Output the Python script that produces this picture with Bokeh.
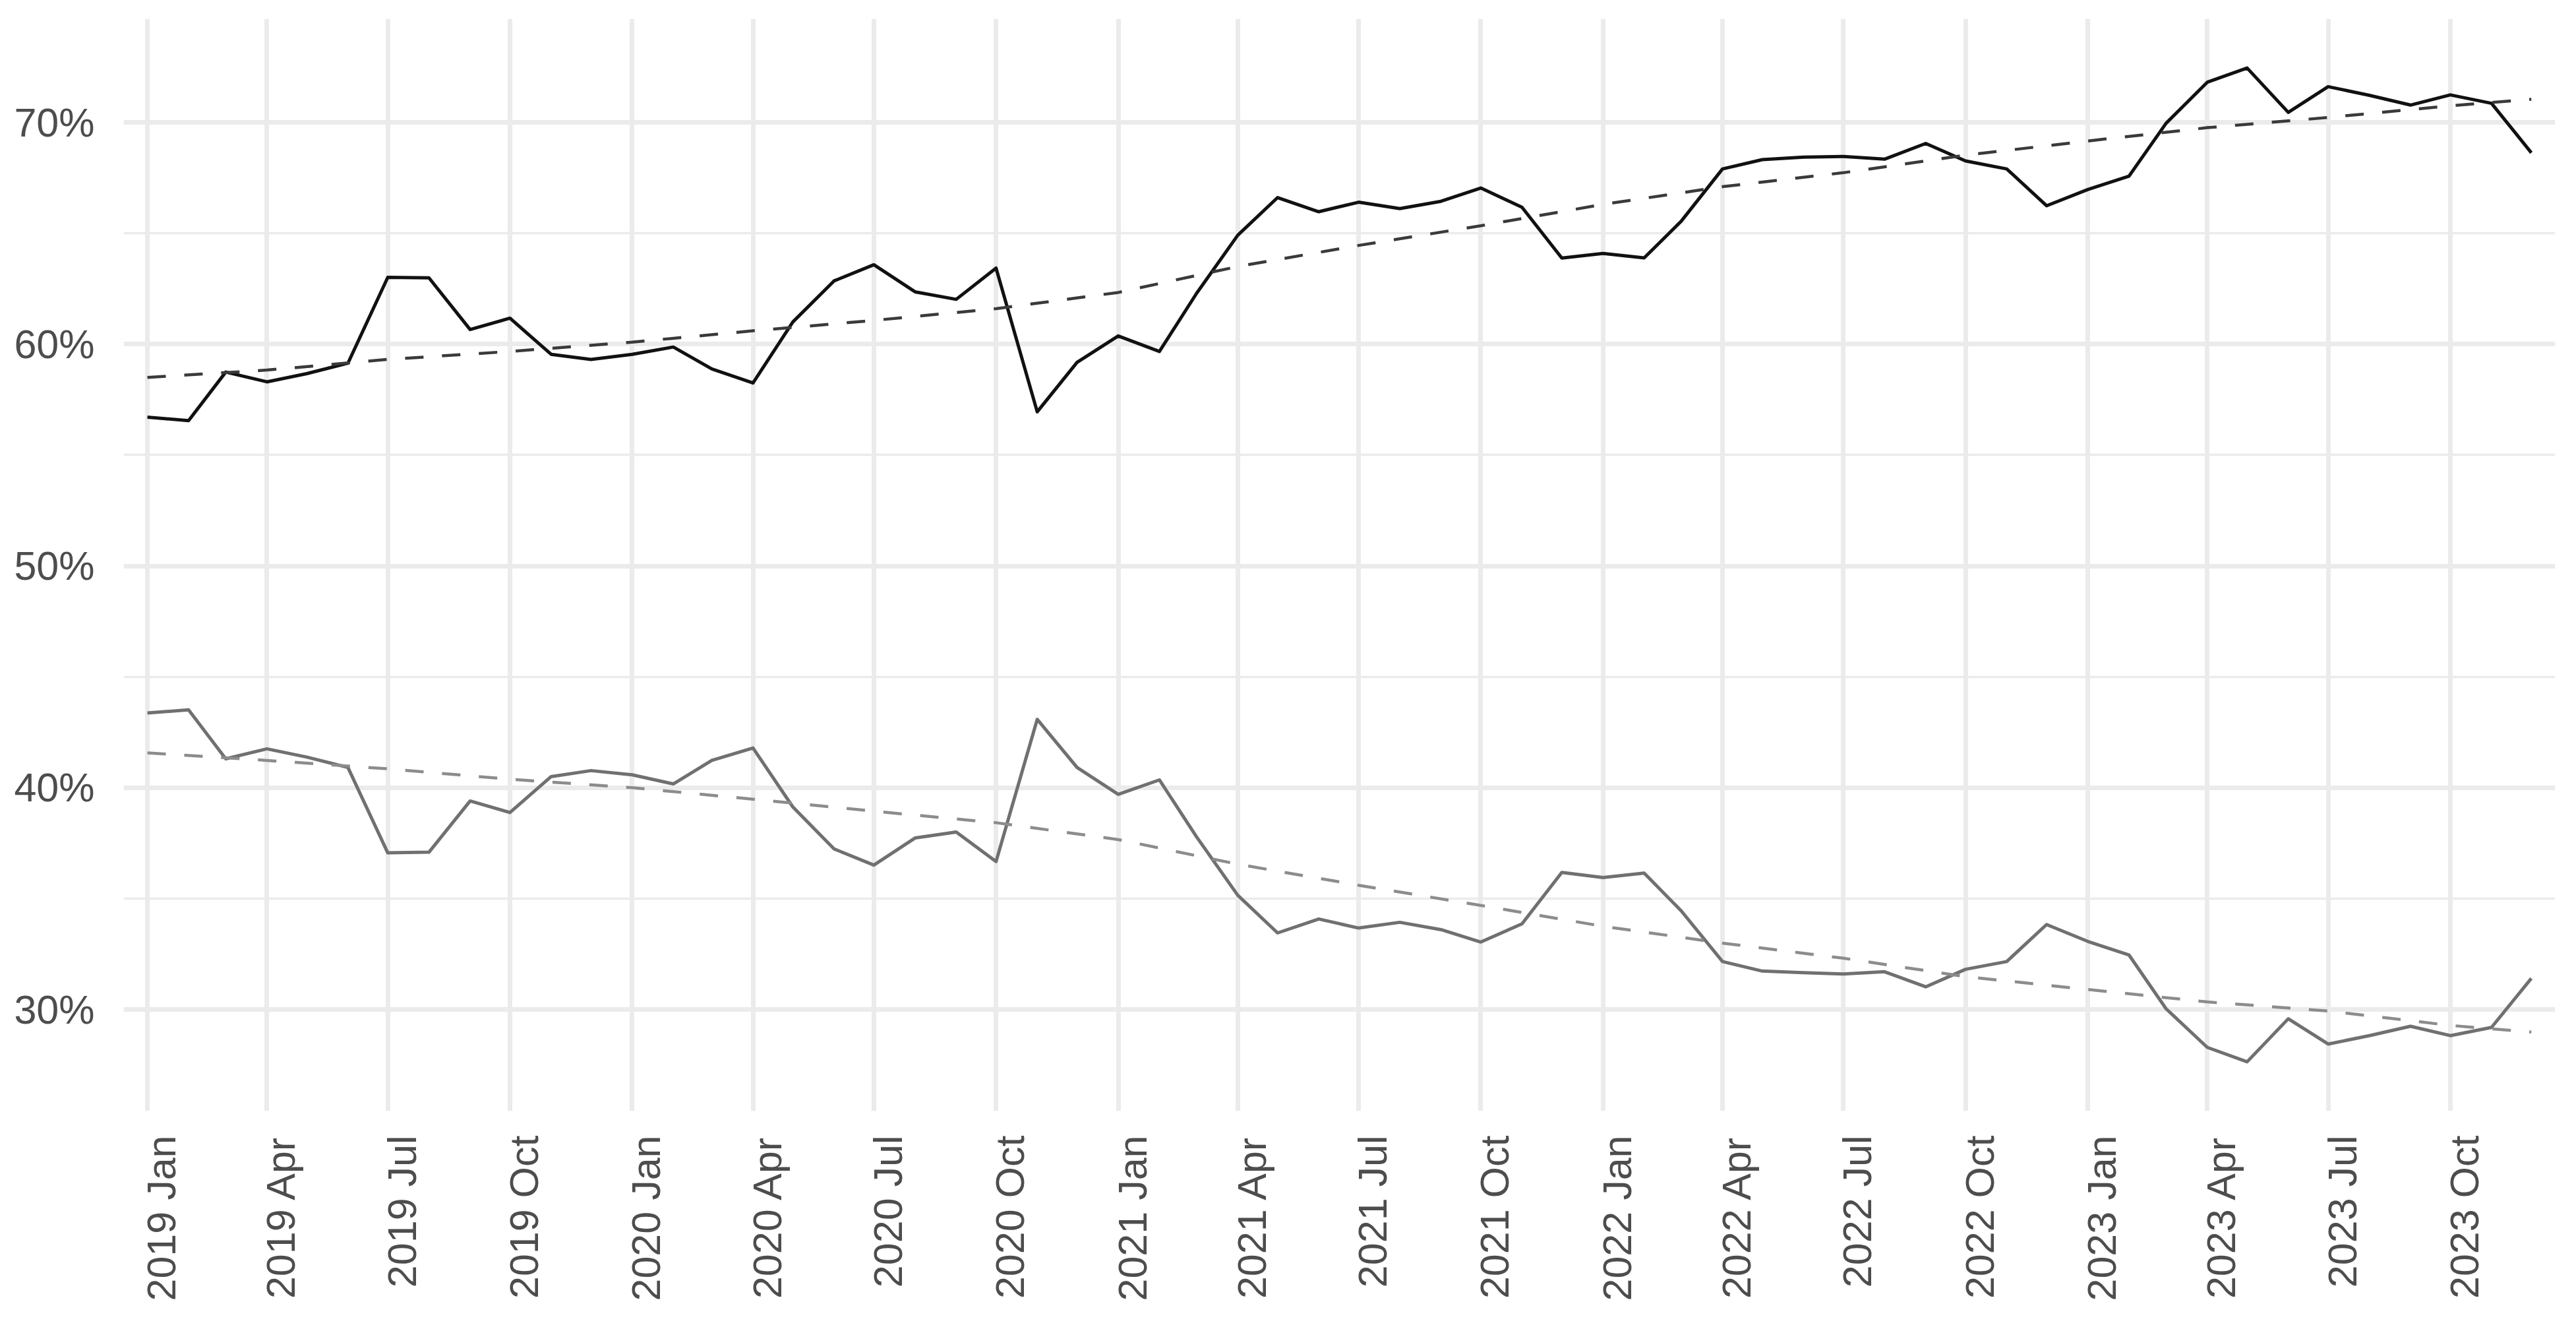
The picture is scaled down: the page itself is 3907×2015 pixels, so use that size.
import math
import pandas as pd
from bokeh.plotting import figure
from bokeh.models import Range1d, FixedTicker
from bokeh.embed import file_html
from bokeh.resources import INLINE

# ---- data (monthly shares, %) ----
months = pd.date_range("2019-01-01", "2023-12-01", freq="MS")

black_share = [56.71, 56.55, 58.74, 58.30, 58.67, 59.14, 63.01, 62.99, 60.66, 61.17,
               59.54, 59.31, 59.54, 59.87, 58.88, 58.25, 61.00, 62.85, 63.58, 62.36,
               62.02, 63.43, 56.95, 59.18, 60.37, 59.67, 62.29, 64.91, 66.61, 65.97,
               66.40, 66.11, 66.44, 67.04, 66.17, 63.88, 64.09, 63.89, 65.55, 67.90,
               68.32, 68.43, 68.46, 68.34, 69.05, 68.26, 67.90, 66.24, 66.97, 67.57,
               69.96, 71.81, 72.45, 70.45, 71.61, 71.22, 70.78, 71.24, 70.86, 68.63]

grey_share = [43.37, 43.51, 41.30, 41.75, 41.38, 40.91, 37.06, 37.09, 39.40, 38.88,
              40.50, 40.77, 40.58, 40.17, 41.23, 41.79, 39.13, 37.24, 36.51, 37.73,
              38.00, 36.67, 43.08, 40.91, 39.70, 40.35, 37.78, 35.15, 33.45, 34.08,
              33.67, 33.93, 33.60, 33.04, 33.86, 36.18, 35.95, 36.15, 34.44, 32.16,
              31.73, 31.66, 31.60, 31.70, 31.02, 31.81, 32.16, 33.83, 33.07, 32.46,
              30.03, 28.29, 27.64, 29.58, 28.44, 28.82, 29.24, 28.82, 29.19, 31.40]

# ---- smoothed trend lines ----
trend_dates = pd.to_datetime([
    "2019-01-01", "2019-04-01", "2019-07-01", "2019-10-01",
    "2020-01-01", "2020-04-01", "2020-07-01", "2020-10-01",
    "2021-01-01", "2021-04-01", "2021-07-01", "2021-10-01",
    "2022-01-01", "2022-04-01", "2022-07-01", "2022-10-01",
    "2023-01-01", "2023-04-01", "2023-07-01", "2023-10-01", "2023-12-01"])
black_trend = [58.50, 58.83, 59.31, 59.67, 60.09, 60.60, 61.07, 61.60, 62.33, 63.50,
               64.45, 65.34, 66.30, 67.10, 67.73, 68.52, 69.16, 69.76, 70.22, 70.75, 71.04]
grey_trend = [41.57, 41.23, 40.85, 40.38, 40.00, 39.48, 38.94, 38.42, 37.66, 36.55,
              35.60, 34.69, 33.75, 32.99, 32.31, 31.48, 30.90, 30.34, 29.93, 29.28, 28.98]

# ---- axis ticks ----
tick_dates = pd.date_range("2019-01-01", "2023-10-01", freq="QS")
tick_labels = ["2019 Jan", "2019 Apr", "2019 Jul", "2019 Oct",
               "2020 Jan", "2020 Apr", "2020 Jul", "2020 Oct",
               "2021 Jan", "2021 Apr", "2021 Jul", "2021 Oct",
               "2022 Jan", "2022 Apr", "2022 Jul", "2022 Oct",
               "2023 Jan", "2023 Apr", "2023 Jul", "2023 Oct"]
y_ticks = [30, 40, 50, 60, 70]
y_minor = [35, 45, 55, 65]
y_labels = ["30%", "40%", "50%", "60%", "70%"]


def ms(ts):
    return int(pd.Timestamp(ts).value // 10**6)


DAY = 86400000
grid_ms = [ms(t) for t in tick_dates]
label_shift = int(10.7 * DAY)          # labels sit slightly right of their grid line
label_ms = [g + label_shift for g in grid_ms]

W, H = 3890, 1998
p = figure(width=W, height=H, x_axis_type="datetime",
           output_backend="svg", toolbar_location=None,
           x_range=Range1d(ms("2019-01-01") - int(17.9 * DAY), ms("2023-12-01") + int(18 * DAY)),
           y_range=Range1d(25.42, 74.67),
           min_border_left=187, min_border_right=W - 3875,
           min_border_top=28, min_border_bottom=H - 1684)
p.outline_line_color = None
p.background_fill_color = "white"
p.border_fill_color = "white"

FONT = "Liberation Sans"
LABEL_COLOR = "#4D4D4D"
GRID = "#EBEBEB"

# y axis
p.yaxis.ticker = FixedTicker(ticks=y_ticks, minor_ticks=y_minor)
p.yaxis.major_label_overrides = {t: l for t, l in zip(y_ticks, y_labels)}
p.yaxis.major_label_text_font = FONT
p.yaxis.major_label_text_font_size = "61px"
p.yaxis.major_label_text_color = LABEL_COLOR
p.yaxis.major_label_standoff = 40
p.yaxis.axis_line_color = None
p.yaxis.major_tick_line_color = None
p.yaxis.minor_tick_line_color = None
p.yaxis.major_tick_out = 0
p.yaxis.major_tick_in = 0

# x axis
p.xaxis.ticker = FixedTicker(ticks=label_ms, minor_ticks=[])
p.xaxis.major_label_overrides = {t: l for t, l in zip(label_ms, tick_labels)}
p.xaxis.major_label_orientation = math.pi / 2
p.xaxis.major_label_text_font = FONT
p.xaxis.major_label_text_font_size = "61px"
p.xaxis.major_label_text_color = LABEL_COLOR
p.xaxis.major_label_standoff = 37
p.xaxis.axis_line_color = None
p.xaxis.major_tick_line_color = None
p.xaxis.minor_tick_line_color = None
p.xaxis.major_tick_out = 0
p.xaxis.major_tick_in = 0

# grids
p.xgrid.ticker = FixedTicker(ticks=grid_ms, minor_ticks=[])
p.xgrid.grid_line_color = GRID
p.xgrid.grid_line_width = 7
p.ygrid.grid_line_color = GRID
p.ygrid.grid_line_width = 7
p.ygrid.minor_grid_line_color = GRID
p.ygrid.minor_grid_line_width = 3.7

# series
p.line(months, grey_share, line_color="#707070", line_width=5, line_join="round")
p.line(months, black_share, line_color="#111111", line_width=5, line_join="round")
p.line(trend_dates, grey_trend, line_color="#8C8C8C", line_width=4.5, line_dash="28 28")
p.line(trend_dates, black_trend, line_color="#3A3A3A", line_width=4.5, line_dash="28 28")

open("out.html", "w").write(file_html(p, INLINE))
